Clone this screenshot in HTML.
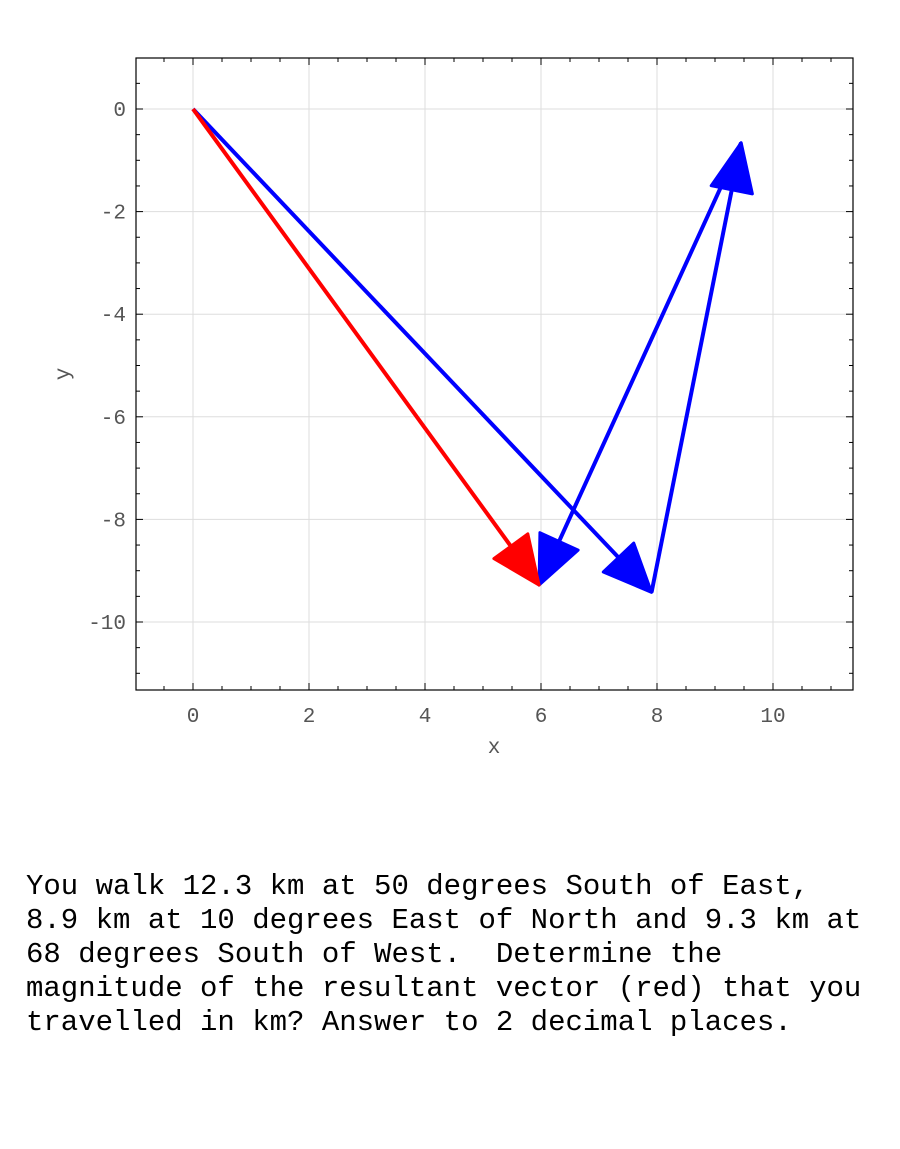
<!DOCTYPE html>
<html><head><meta charset="utf-8"><style>
body{margin:0;background:#fff;width:900px;height:1149px;overflow:hidden}
.q{position:absolute;left:26px;top:870px;font-family:"Liberation Mono",monospace;font-size:29px;line-height:34px;color:#000;white-space:pre}
</style></head><body>
<svg id="s" width="900" height="1149" style="position:absolute;left:0;top:0" font-family="Liberation Mono, monospace"></svg>
<div class="q">You walk 12.3 km at 50 degrees South of East,
8.9 km at 10 degrees East of North and 9.3 km at
68 degrees South of West.  Determine the
magnitude of the resultant vector (red) that you
travelled in km? Answer to 2 decimal places.</div>
<script>
var s=document.getElementById('s'),h='';
var L=136,R=853,T=58,B=690;
function X(v){return 193+v*58}function Y(v){return 109-v*51.3}
for(var v=0;v<=10;v+=2){h+='<line x1="'+X(v)+'" x2="'+X(v)+'" y1="'+T+'" y2="'+B+'" stroke="#ddd" stroke-width="1"/>';
h+='<text x="'+X(v)+'" y="722" font-size="21" text-anchor="middle" fill="#555">'+v+'</text>';}
for(var v=0;v>=-10;v-=2){h+='<line y1="'+Y(v)+'" y2="'+Y(v)+'" x1="'+L+'" x2="'+R+'" stroke="#ddd" stroke-width="1"/>';
h+='<text x="126" y="'+(Y(v)+7)+'" font-size="21" text-anchor="end" fill="#555">'+(v<0?'-'+(-v):v)+'</text>';}
for(var v=-1;v<=11.4;v+=0.5){var x=X(v);if(x<L||x>R)continue;var l=(v%2==0)?7:4;
h+='<line x1="'+x+'" x2="'+x+'" y1="'+B+'" y2="'+(B-l)+'" stroke="#000"/><line x1="'+x+'" x2="'+x+'" y1="'+T+'" y2="'+(T+l)+'" stroke="#000"/>';}
for(var v=1;v>=-11.5;v-=0.5){var y=Y(v);if(y<T||y>B)continue;var l=(v%2==0)?7:4;
h+='<line y1="'+y+'" y2="'+y+'" x1="'+L+'" x2="'+(L+l)+'" stroke="#000"/><line y1="'+y+'" y2="'+y+'" x1="'+R+'" x2="'+(R-l)+'" stroke="#000"/>';}
h+='<rect x="'+L+'" y="'+T+'" width="'+(R-L)+'" height="'+(B-T)+'" fill="none" stroke="#000" stroke-width="1.2"/>';
h+='<text x="494" y="753" font-size="21" text-anchor="middle" fill="#555">x</text>';
h+='<text transform="translate(69,374) rotate(-90)" font-size="21" text-anchor="middle" fill="#555">y</text>';
function arrow(a,b,c,d,col){var x1=X(a),y1=Y(b),x2=X(c),y2=Y(d),dx=x2-x1,dy=y2-y1,n=Math.hypot(dx,dy);dx/=n;dy/=n;
var hl=48,hw=21,bx=x2-dx*hl,by=y2-dy*hl;
h+='<line x1="'+x1+'" y1="'+y1+'" x2="'+bx+'" y2="'+by+'" stroke="'+col+'" stroke-width="4"/>';
h+='<polygon points="'+x2+','+y2+' '+(bx-dy*hw)+','+(by+dx*hw)+' '+(bx+dy*hw)+','+(by-dx*hw)+'" fill="'+col+'" stroke="'+col+'" stroke-width="3" stroke-linejoin="round"/>';}
var p1=[7.906,-9.422],p2=[p1[0]+1.545,p1[1]+8.765],p3=[p2[0]-3.484,p2[1]-8.623];
arrow(0,0,p1[0],p1[1],'#00f');arrow(p1[0],p1[1],p2[0],p2[1],'#00f');arrow(p2[0],p2[1],p3[0],p3[1],'#00f');
arrow(0,0,p3[0],p3[1],'#f00');
s.innerHTML=h;
</script>
</body></html>
